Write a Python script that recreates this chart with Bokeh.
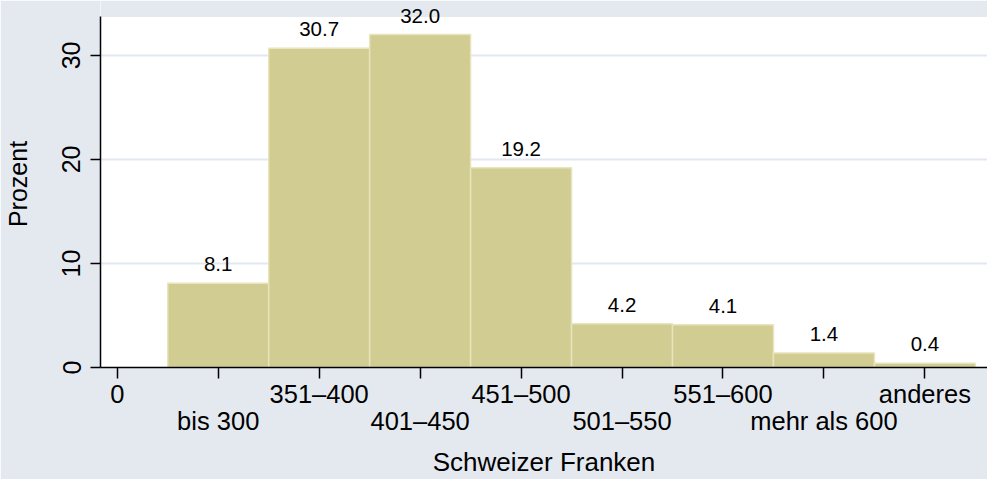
from bokeh.plotting import figure
from bokeh.models import (ColumnDataSource, Range1d, FixedTicker, LinearAxis,
                          LabelSet, BoxAnnotation)
from bokeh.core.properties import value
from bokeh.embed import file_html
from bokeh.resources import INLINE

# ---- data ----
categories = ["bis 300", "351–400", "401–450", "451–500",
              "501–550", "551–600", "mehr als 600", "anderes"]
percent = [8.1, 30.7, 32.0, 19.2, 4.2, 4.1, 1.4, 0.4]
x_tick_labels = ["0"] + categories
y_ticks = [0, 10, 20, 30]

FONT = "Liberation Sans"
BG = "#E4E9F0"
BAR = "#D1CC92"
BAR_LINE = "#E8E4BC"

Y_TOP = 33.7      # top of the white plot region
Y_END = 35.28     # range end (includes margin band for labels)

pos = list(range(1, len(categories) + 1))
src = ColumnDataSource(dict(
    left=[p - 0.5 for p in pos],
    right=[p + 0.5 for p in pos],
    top=percent,
    x=pos,
    lab=[f"{v:.1f}" for v in percent],
))

p = figure(width=987, height=479, output_backend="svg", toolbar_location=None,
           x_range=Range1d(-0.166, 8.62), y_range=Range1d(0, Y_END),
           min_border_left=100, min_border_right=0, min_border_top=0,
           min_border_bottom=100)
p.background_fill_color = "white"
p.border_fill_color = BG
p.outline_line_color = None

# margin band above the plot region, same colour as the surrounding area
band = BoxAnnotation(bottom=Y_TOP, top=Y_END, fill_color=BG, fill_alpha=1.0,
                     line_color=None, level="underlay")
p.add_layout(band)

p.quad(left="left", right="right", bottom=0, top="top", source=src,
       fill_color=BAR, line_color=BAR_LINE, line_width=1.5)
labels = LabelSet(x="x", y="top", text="lab", source=src, text_align="center",
                  text_baseline="middle", y_offset=19, text_font=value(FONT),
                  text_font_size=value("20.5px"), text_color=value("black"))
p.add_layout(labels)

# x axis: first row (even ticks) with tick marks
xt = list(range(0, len(x_tick_labels)))
p.xaxis.ticker = FixedTicker(ticks=xt)
p.xaxis.major_label_overrides = {
    i: (lab if i % 2 == 0 else "") for i, lab in enumerate(x_tick_labels)
}
p.xaxis.minor_tick_line_color = None
p.xaxis.major_tick_in = 0
p.xaxis.major_tick_out = 11
p.xaxis.major_label_standoff = 1

# second row (odd ticks) + axis title
ax2 = LinearAxis(ticker=FixedTicker(ticks=[i for i in xt if i % 2 == 1]),
                 major_label_overrides={i: x_tick_labels[i] for i in xt if i % 2 == 1})
ax2.axis_line_color = None
ax2.major_tick_line_color = None
ax2.minor_tick_line_color = None
ax2.major_tick_in = 0
ax2.major_tick_out = 0
ax2.major_label_standoff = -4
ax2.axis_label = "Schweizer Franken"
ax2.axis_label_standoff = 9
p.add_layout(ax2, "below")

# y axis
p.yaxis.ticker = FixedTicker(ticks=y_ticks)
p.yaxis.bounds = (0, Y_TOP)
p.yaxis.axis_label = "Prozent"
p.yaxis.major_label_orientation = "vertical"
p.yaxis.minor_tick_line_color = None
p.yaxis.major_tick_in = 0
p.yaxis.major_tick_out = 10
p.yaxis.major_label_standoff = 10
p.yaxis.axis_label_standoff = 28

for ax in (p.xaxis[0], ax2, p.yaxis[0]):
    ax.major_label_text_font = FONT
    ax.major_label_text_font_size = "25.5px"
    ax.major_label_text_color = "black"
    ax.axis_label_text_font = FONT
    ax.axis_label_text_font_size = "26px"
    ax.axis_label_text_font_style = "normal"
    ax.axis_label_text_color = "black"
for ax in (p.xaxis[0], p.yaxis[0]):
    ax.axis_line_color = "black"
    ax.axis_line_width = 1.5
    ax.major_tick_line_color = "black"
    ax.major_tick_line_width = 1.5
p.yaxis.major_label_text_font_size = "25px"
p.yaxis.axis_label_text_font_size = "25px"

p.xgrid.grid_line_color = None
p.ygrid.ticker = FixedTicker(ticks=[10, 20, 30])
p.ygrid.grid_line_color = "#E2E8F0"
p.ygrid.grid_line_width = 2

open("out.html", "w").write(file_html(p, INLINE))
